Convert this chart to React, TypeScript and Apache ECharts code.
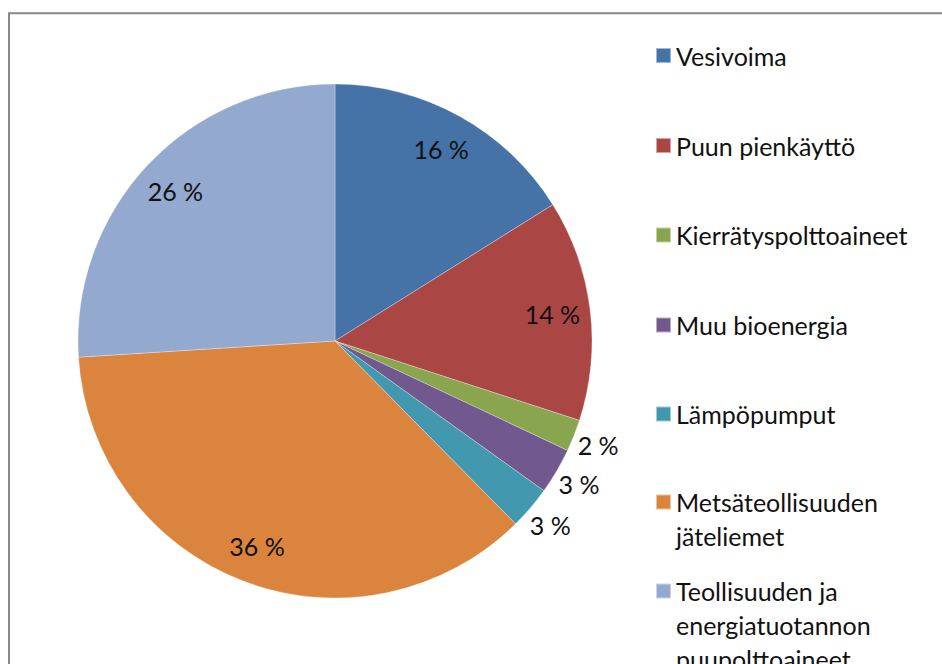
import React, { useEffect, useRef } from "react";
import * as echarts from "echarts";

const categories = [
  "Vesivoima",
  "Puun pienkäyttö",
  "Kierrätyspolttoaineet",
  "Muu bioenergia",
  "Lämpöpumput",
  "Metsäteollisuuden jäteliemet",
  "Teollisuuden ja energiatuotannon puupolttoaineet",
];
const legendLines = [
  ["Vesivoima"],
  ["Puun pienkäyttö"],
  ["Kierrätyspolttoaineet"],
  ["Muu bioenergia"],
  ["Lämpöpumput"],
  ["Metsäteollisuuden", "jäteliemet"],
  ["Teollisuuden ja", "energiatuotannon", "puupolttoaineet"],
];
const values = [16.1, 13.9, 2.0, 2.9, 2.7, 36.4, 26.0];
const colors = ["#4572A7", "#AA4643", "#89A54E", "#71588F", "#4198AF", "#DB843D", "#93A9CF"];
const outsideLabel = [false, false, true, true, true, false, false];

const FONT = "Lato";
const FS = 25;
const LH = 34;
const legendIconCenters = [55.5, 145.5, 235, 325, 414, 502, 591];

export default function App() {
  const ref = useRef<HTMLDivElement>(null);
  useEffect(() => {
    if (!ref.current) return;
    const chart = echarts.init(ref.current, undefined, { renderer: "svg" });
    const fmt = (p: any) => Math.round(p.percent) + " %";
    const legends = categories.map((name, i) => {
      const lines = legendLines[i];
      const n = lines.length;
      // pad with blank lines on top so the icon sits beside the first line
      const text = new Array(n - 1).fill(" ").concat(lines).join("\n");
      return {
        orient: "vertical",
        left: 655,
        top: legendIconCenters[i] - ((2 * n - 1) * LH) / 2,
        padding: 0,
        icon: "rect",
        itemWidth: 15,
        itemHeight: 15,
        selectedMode: false,
        formatter: () => text,
        textStyle: {
          fontFamily: FONT,
          fontSize: FS,
          color: "#111",
          lineHeight: LH,
        },
        data: [name],
      };
    });
    const labelSeries = (radius: number[], outside: boolean) => ({
      type: "pie",
      center: [335, 341],
      radius,
      silent: true,
      startAngle: 90,
      clockwise: true,
      itemStyle: { color: "rgba(0,0,0,0)" },
      labelLine: { show: false },
      emphasis: { disabled: true },
      data: categories.map((name, i) => ({
        name,
        value: values[i],
        label: {
          show: outsideLabel[i] === outside,
          position: "inside",
          formatter: fmt,
          fontFamily: FONT,
          fontSize: FS,
          color: "#111",
        },
      })),
    });
    chart.setOption({
      animation: false,
      backgroundColor: "#fff",
      color: colors,
      graphic: [
        {
          type: "rect",
          shape: { x: 9, y: 13.3, width: 1200, height: 1200 },
          style: { fill: "none", stroke: "#888888", lineWidth: 2 },
          silent: true,
        },
      ],
      legend: legends,
      series: [
        {
          type: "pie",
          center: [335, 341],
          radius: [0, 257],
          startAngle: 90,
          clockwise: true,
          label: { show: false },
          labelLine: { show: false },
          emphasis: { disabled: true },
          itemStyle: { borderColor: "rgba(255,255,255,0.5)", borderWidth: 0.6 },
          data: categories.map((name, i) => ({ name, value: values[i] })),
        },
        labelSeries([175, 257], false),
        labelSeries([262, 298], true),
      ],
    });
    return () => chart.dispose();
  }, []);
  return (
    <div
      ref={ref}
      style={{ position: "fixed", left: 0, top: 0, width: 942, height: 664 }}
    />
  );
}
